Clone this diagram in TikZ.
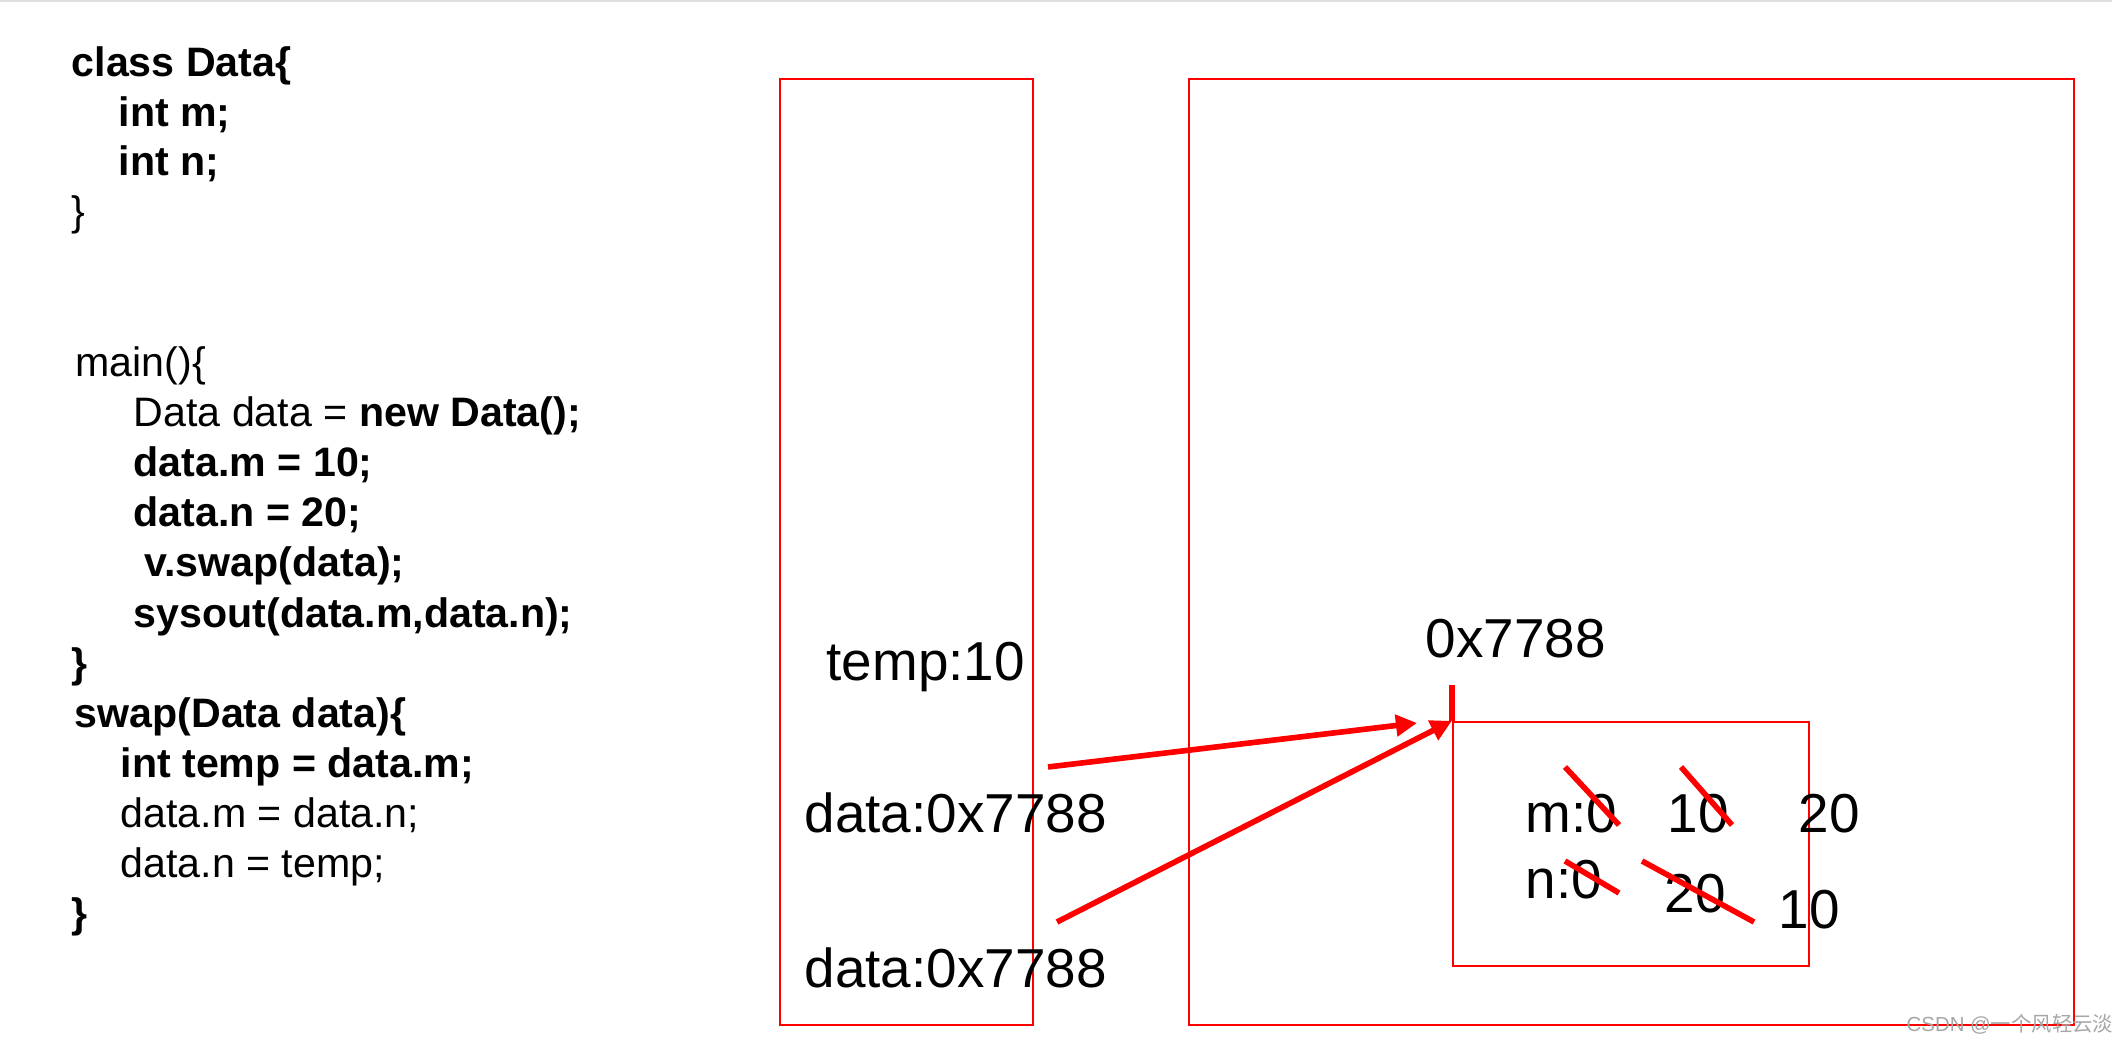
\documentclass[tikz,border=0pt]{standalone}
\usepackage{fontspec}
\setmainfont{Liberation Sans}
\newfontfamily\cjkfont{Noto Sans CJK SC}
\usetikzlibrary{arrows.meta, positioning}
\definecolor{memred}{RGB}{255, 0, 0}
\tikzset{
  codeline/.style={
    anchor=base west,
    inner sep=0pt,
    font=\fontsize{11.7}{14}\selectfont
  },
  bigtext/.style={
    anchor=base west,
    inner sep=0pt,
    font=\fontsize{15.6}{18}\selectfont
  },
  memframe/.style={
    draw=memred,
    line width=0.6pt,
    inner sep=0pt
  },
  pointer/.style={
    -{Triangle[length=6pt, width=6pt]},
    draw=memred,
    line width=1.6pt
  },
  strike/.style={
    draw=memred,
    line width=1.6pt
  }
}

\begin{document}
\begin{tikzpicture}[x=0.01cm, y=-0.01cm]
          \useasboundingbox (0,0) rectangle (2112,1043);
          \draw[gray!25, line width=0.8pt] (0,1) -- (2112,1);

          % code
          \node[codeline] (c1) at (71, 77) {\bfseries class Data\{};
          \node[codeline] (c2) at (118, 127) {\bfseries int m;};
          \node[codeline] (c3) at (118, 176) {\bfseries int n;};
          \node[codeline] (c4) at (71, 226) {\}};
          \node[codeline] (c5) at (75, 377) {main()\{};
          \node[codeline] (c6) at (133, 427) {Data data = \textbf{new Data();}};
          \node[codeline] (c7) at (133, 477) {\bfseries data.m = 10;};
          \node[codeline] (c8) at (133, 527) {\bfseries data.n = 20;};
          \node[codeline] (c9) at (144, 577) {\bfseries v.swap(data);};
          \node[codeline] (c10) at (133, 627) {\bfseries sysout(data.m,data.n);};
          \node[codeline] (c11) at (71, 677) {\bfseries \}};
          \node[codeline] (c12) at (74, 727) {\bfseries swap(Data data)\{};
          \node[codeline] (c13) at (120, 777) {\bfseries int temp = data.m;};
          \node[codeline] (c14) at (120, 827) {data.m = data.n;};
          \node[codeline] (c15) at (120, 877) {data.n = temp;};
          \node[codeline] (c16) at (71, 927) {\bfseries \}};

          % stack and heap
          \node[memframe, minimum width=2.53cm, minimum height=9.46cm] (stack) at (906.5, 552) {};
          \node[memframe, minimum width=8.85cm, minimum height=9.46cm] (heap) at (1631.5, 552) {};
          \node[memframe, minimum width=3.56cm, minimum height=2.44cm] (obj) at (1631, 844) {};

          \node[bigtext] (temp) at (826, 680) {temp:10};
          \node[bigtext] (data1) at (804, 832) {data:0x7788};
          \node[bigtext] (data2) at (804, 987) {data:0x7788};
          \node[bigtext] (addr) at (1425, 657) {0x7788};

          \node[bigtext] (m0) at (1525, 832) {m:0};
          \node[bigtext] (m10) at (1667, 832) {10};
          \node[bigtext] (m20) at (1798, 832) {20};
          \node[bigtext] (n0) at (1525, 898) {n:0};
          \node[bigtext] (n20) at (1664, 912) {20};
          \node[bigtext] (n10) at (1778, 928) {10};

          % pointers
          \coordinate (p1) at (1048, 767);
          \coordinate (p2) at (1057, 922);
          \coordinate (hit) at (1417, 723);
          \draw[strike] (obj.north west) -- ++(0, -36);
          \draw[pointer] (p1) -- (hit);
          \draw[pointer] (p2) -- (obj.north west);

          % crossed out values
          \draw[strike] (1565, 767) -- (1619, 825);
          \draw[strike] (1681, 767) -- (1732, 825);
          \draw[strike] (1565, 861) -- (1619, 893);
          \draw[strike] (1642, 861) -- (1754, 922);

          \node[anchor=base west, inner sep=0pt, text=gray!70,
                font=\fontsize{5.8}{7}\selectfont] (mark) at (1906, 1031) {CSDN @{\cjkfont 一个风轻云淡}};
        \end{tikzpicture}
\end{document}
